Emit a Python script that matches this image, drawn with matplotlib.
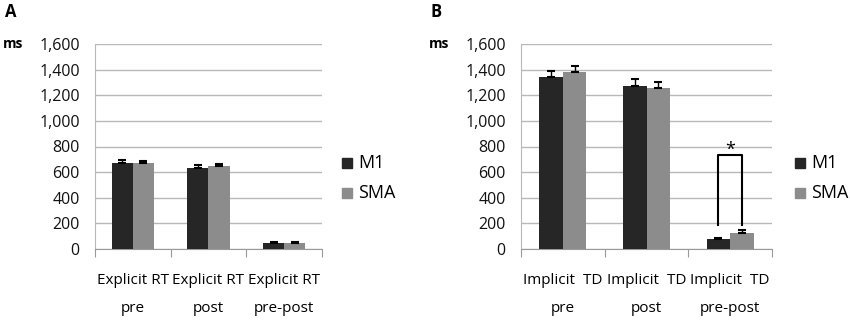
import matplotlib
matplotlib.use("Agg")
import matplotlib.pyplot as plt
from matplotlib.ticker import FuncFormatter

plt.rcParams['font.family'] = ['Open Sans', 'DejaVu Sans']

series = ["M1", "SMA"]
colors = ["#262626", "#8c8c8c"]

cats_a = [("Explicit RT", "pre"), ("Explicit RT", "post"), ("Explicit RT", "pre-post")]
m1_a = [670, 630, 45]
sma_a = [670, 650, 45]
m1_a_err = [25, 22, 10]
sma_a_err = [20, 15, 8]

cats_b = [("Implicit  TD", "pre"), ("Implicit  TD", "post"), ("Implicit  TD", "pre-post")]
m1_b = [1346, 1276, 76]
sma_b = [1385, 1258, 127]
m1_b_err = [47, 54, 12]
sma_b_err = [45, 47, 21]

yticks = [0, 200, 400, 600, 800, 1000, 1200, 1400, 1600]

fig = plt.figure(figsize=(8.5, 3.2), dpi=100)
W, H = 850, 320

def make_ax(left, right, top=44, bottom=249):
    return fig.add_axes([left / W, (H - bottom) / H, (right - left) / W, (bottom - top) / H])

ax_a = make_ax(95, 322)
ax_b = make_ax(521, 772)

bw = 0.28
grid_c = "#b8b8b8"

def draw(ax, cats, m1, sma, m1e, smae, label, legx):
    x = list(range(len(cats)))
    for i, (vals, errs) in enumerate([(m1, m1e), (sma, smae)]):
        pos = [xi + (i - 0.5) * bw for xi in x]
        ax.bar(pos, vals, width=bw, color=colors[i], zorder=3, label=series[i])
        ax.errorbar(pos, vals, yerr=[[0] * len(vals), errs], fmt='none', ecolor='black',
                    elinewidth=1, capsize=3, capthick=1.5, zorder=4)
    ax.set_xlim(-0.5, len(cats) - 0.5)
    ax.set_ylim(0, 1600)
    ax.set_yticks(yticks)
    ax.yaxis.set_major_formatter(FuncFormatter(lambda v, p: f"{int(v):,}"))
    ax.grid(axis='y', color=grid_c, linewidth=1, zorder=0)
    for s in ['top', 'right']:
        ax.spines[s].set_visible(False)
    ax.spines['left'].set_color(grid_c)
    ax.spines['bottom'].set_color("#9a9a9a")
    ax.tick_params(axis='y', length=0, labelsize=11.5, pad=11, labelcolor='#111111')
    ax.set_xticks([i - 0.5 for i in range(len(cats) + 1)])
    ax.set_xticklabels([])
    ax.tick_params(axis='x', length=6, color="#9a9a9a")
    for i, (l1, l2) in enumerate(cats):
        ax.text(i, -0.155, l1, transform=ax.get_xaxis_transform(), ha='center', va='center', fontsize=11)
        ax.text(i, -0.29, l2, transform=ax.get_xaxis_transform(), ha='center', va='center', fontsize=11)
    pos = ax.get_position()
    fig.text(3 / W + pos.x0 - 95 / W, 1 - 44 / H, "ms", fontsize=10, fontweight='bold', ha='left', va='center')
    fig.text(pos.x0 - 90 / W, 1 - 12 / H, label, fontsize=12, fontweight='bold', ha='left', va='center')
    for j, s in enumerate(series):
        yy = 1 - (163 + 30 * j) / H
        fig.patches.append(plt.Rectangle((legx / W, yy - 5 / H), 10 / W, 10 / H, color=colors[j],
                                         transform=fig.transFigure, figure=fig))
        fig.text((legx + 16) / W, yy, s, fontsize=13, ha='left', va='center')

draw(ax_a, cats_a, m1_a, sma_a, m1_a_err, sma_a_err, "A", 342)
draw(ax_b, cats_b, m1_b, sma_b, m1_b_err, sma_b_err, "B", 795)

# significance bracket on panel B pre-post
xl, xr = 2 - 0.5 * bw, 2 + 0.5 * bw
ax_b.plot([xl, xl, xr, xr], [185, 735, 735, 185], color='black', linewidth=1.5, zorder=5)
ax_b.text(2, 775, "*", ha='center', va='center', fontsize=13)

fig.savefig("out.png", dpi=100)
